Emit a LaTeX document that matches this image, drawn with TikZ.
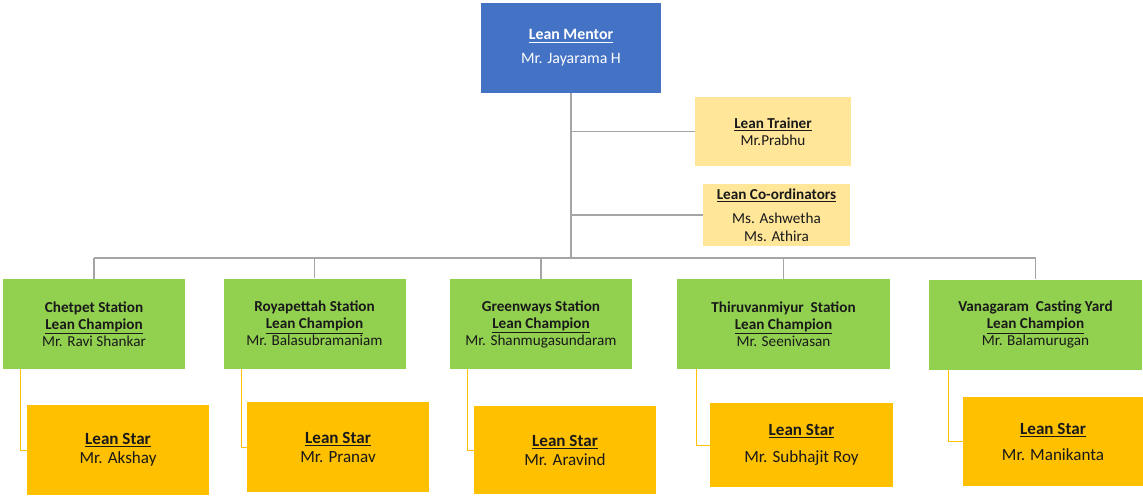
\documentclass[tikz,border=0pt]{standalone}
\usepackage{fontspec}
\setmainfont{Carlito}
\usepackage{tikz}
\definecolor{mentorblue}{HTML}{4472C4}
\definecolor{trainyellow}{HTML}{FFE699}
\definecolor{champgreen}{HTML}{92D050}
\definecolor{starorange}{HTML}{FFC000}
\definecolor{linegray}{HTML}{A5A5A5}
\tikzstyle{box} = [rectangle, inner sep = 0pt, align = center, font = \fontsize{11.4}{12.75}\selectfont]
\tikzstyle{mentor} = [box, fill = mentorblue, text = white, minimum width = 135pt, minimum height = 67.5pt, font = \fontsize{11.9}{13.5}\selectfont]
\tikzstyle{support} = [box, fill = trainyellow, text = black!90]
\tikzstyle{champion} = [box, fill = champgreen, text = black!90, minimum width = 136.5pt, minimum height = 67.5pt]
\tikzstyle{star} = [box, fill = starorange, text = black!90, minimum width = 136.5pt, minimum height = 67.5pt, font = \fontsize{12.8}{14.25}\selectfont]
\tikzstyle{link} = [draw = linegray, line width = 0.9pt]
\tikzstyle{starlink} = [draw = starorange, line width = 0.6pt]
\newcommand{\ttl}[1]{\underline{\textbf{#1}}}

\begin{document}
\begin{tikzpicture}[x = 0.75pt, y = -0.75pt]
        \useasboundingbox (0, 0) rectangle (1143, 496);
        \node (mentor) at (571, 48) [mentor] {\ttl{Lean Mentor}\\[4.5pt]Mr. Jayarama H};
        \node (trainer) at (773, 131.5) [support, minimum width = 117pt, minimum height = 51.75pt] {\ttl{Lean Trainer}\\Mr.Prabhu};
        \node (coord) at (776.5, 215) [support, minimum width = 110.25pt, minimum height = 46.5pt] {\ttl{Lean Co-ordinators}\\[5pt]Ms. Ashwetha\\[0.75pt]Ms. Athira};
        \coordinate (bus) at (571, 258);

        \node (chetpet) at (94, 324) [champion] {\textbf{Chetpet Station}\\\ttl{Lean Champion}\\Mr. Ravi Shankar};
        \node (royapettah) at (314.5, 323.5) [champion] {\textbf{Royapettah Station}\\\ttl{Lean Champion}\\Mr. Balasubramaniam};
        \node (greenways) at (541, 324) [champion] {\textbf{Greenways Station}\\\ttl{Lean Champion}\\Mr. Shanmugasundaram};
        \node (thiruvanmiyur) at (783.5, 324) [champion, minimum width = 159.75pt] {\textbf{Thiruvanmiyur\ \ Station}\\\ttl{Lean Champion}\\Mr. Seenivasan};
        \node (vanagaram) at (1035.5, 324.5) [champion, minimum width = 159.75pt] {\textbf{Vanagaram\ \ Casting Yard}\\\ttl{Lean Champion}\\Mr. Balamurugan};

        \node (akshay) at (118, 450) [star] {\ttl{Lean Star}\\Mr. Akshay};
        \node (pranav) at (338, 447) [star] {\ttl{Lean Star}\\Mr. Pranav};
        \node (aravind) at (565, 450) [star, minimum height = 66pt] {\ttl{Lean Star}\\Mr. Aravind};
        \node (subhajit) at (801.5, 445) [star, minimum width = 137.25pt, minimum height = 63pt] {\ttl{Lean Star}\\[6pt]Mr. Subhajit Roy};
        \node (manikanta) at (1053, 441.5) [star, minimum width = 135pt, minimum height = 66.75pt] {\ttl{Lean Star}\\[5.25pt]Mr. Manikanta};

        \draw [link] (mentor.south) -- (bus);
        \draw [link] (mentor.south |- trainer.west) -- (trainer.west);
        \draw [link] (mentor.south |- coord.west) -- (coord.west);
        \draw [link] (bus -| chetpet.north) -- (bus -| vanagaram.north);
        \draw [link] (bus -| chetpet.north) -- (chetpet.north);
        \draw [link] (bus -| royapettah.north) -- (royapettah.north);
        \draw [link] (bus -| greenways.north) -- (greenways.north);
        \draw [link] (bus -| thiruvanmiyur.north) -- (thiruvanmiyur.north);
        \draw [link] (bus -| vanagaram.north) -- (vanagaram.north);

        \draw [starlink] (chetpet.south west) ++(18, 0) |- (akshay.west);
        \draw [starlink] (royapettah.south west) ++(18, 0) |- (pranav.west);
        \draw [starlink] (greenways.south west) ++(18, 0) |- (aravind.west);
        \draw [starlink] (thiruvanmiyur.south west) ++(20, 0) |- (subhajit.west);
        \draw [starlink] (vanagaram.south west) ++(20, 0) |- (manikanta.west);
    \end{tikzpicture}
\end{document}
